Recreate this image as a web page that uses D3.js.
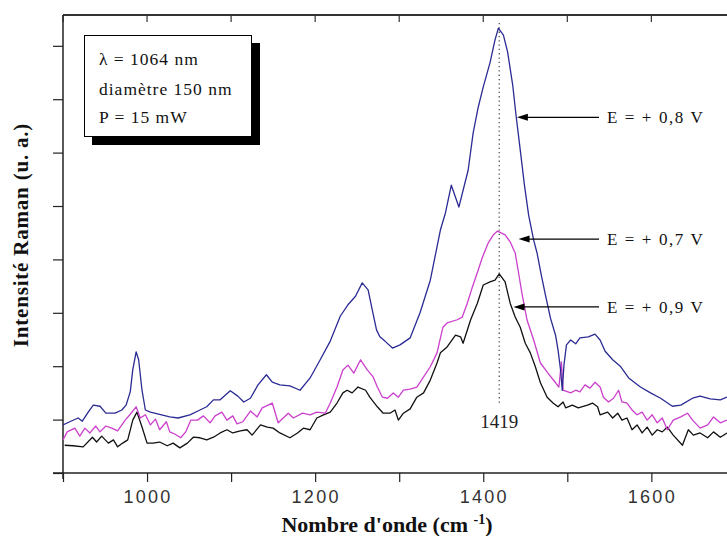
<!DOCTYPE html>
<html>
<head>
<meta charset="utf-8">
<script src="https://cdn.jsdelivr.net/npm/d3@7"></script>
<style>
  html, body { margin: 0; padding: 0; background: #fff; }
  svg { display: block; }
</style>
</head>
<body>
<svg id="chart" width="727" height="536"></svg>
<script>
// ---- Data (wavenumber cm-1, intensity a.u.) ----
const seriesE08 = [ // E = +0,8 V (blue)
  [900,0.90],[908,0.96],[918,1.03],[923,0.97],[930,1.14],[936,1.27],[944,1.25],[951,1.12],[962,1.12],[970,1.18],
  [975,1.27],[980,1.52],[983,1.93],[987,2.27],[990,2.12],[994,1.55],[998,1.18],[1004,1.14],[1015,1.10],[1027,1.05],
  [1037,1.03],[1051,1.09],[1063,1.18],[1071,1.24],[1079,1.37],[1087,1.37],[1099,1.54],[1108,1.44],[1115,1.33],[1123,1.40],
  [1132,1.65],[1142,1.84],[1149,1.70],[1158,1.65],[1170,1.63],[1182,1.55],[1194,1.78],[1206,2.12],[1218,2.47],[1230,2.94],
  [1239,3.15],[1248,3.31],[1256,3.56],[1263,3.43],[1268,3.05],[1273,2.68],[1277,2.55],[1283,2.47],[1292,2.34],[1301,2.40],
  [1313,2.53],[1325,3.01],[1337,3.61],[1343,4.08],[1349,4.55],[1355,4.87],[1362,5.39],[1371,4.98],[1382,5.67],[1388,6.37],
  [1394,6.85],[1400,7.23],[1408,7.68],[1414,8.11],[1418,8.33],[1424,8.20],[1429,7.88],[1435,7.27],[1439,6.70],[1444,6.05],
  [1449,5.39],[1454,4.83],[1460,4.36],[1464,4.12],[1469,3.71],[1474,3.33],[1480,2.90],[1486,2.58],[1489,2.30],[1492,1.93],
  [1494,1.55],[1496,2.02],[1499,2.40],[1504,2.49],[1510,2.42],[1515,2.53],[1525,2.55],[1533,2.60],[1539,2.49],[1545,2.28],
  [1554,2.12],[1563,2.00],[1573,1.78],[1587,1.61],[1599,1.50],[1611,1.40],[1625,1.25],[1635,1.27],[1649,1.40],[1658,1.44],
  [1670,1.39],[1682,1.37],[1690,1.42]
];
const seriesE07 = [ // E = +0,7 V (magenta)
  [900,0.62],[905,0.77],[914,0.84],[920,0.69],[926,0.84],[932,0.75],[939,0.88],[944,0.77],[951,0.88],[958,0.84],
  [965,0.79],[974,0.99],[980,1.10],[987,1.24],[992,1.03],[998,1.09],[1004,0.90],[1010,1.01],[1015,0.81],[1023,0.96],
  [1027,0.77],[1033,0.73],[1040,0.66],[1046,0.77],[1052,0.99],[1060,0.99],[1067,1.07],[1075,0.94],[1081,1.07],[1089,1.14],
  [1095,0.99],[1102,1.07],[1107,0.92],[1114,0.96],[1123,1.16],[1131,1.05],[1137,1.22],[1149,1.31],[1156,0.94],[1168,1.12],
  [1174,1.03],[1185,1.12],[1194,1.09],[1202,1.14],[1212,1.12],[1218,1.31],[1226,1.61],[1233,1.93],[1239,2.02],[1246,1.87],
  [1254,2.12],[1262,1.93],[1269,1.80],[1274,1.61],[1280,1.42],[1286,1.40],[1293,1.50],[1299,1.42],[1305,1.55],[1313,1.57],
  [1321,1.61],[1329,1.80],[1337,1.99],[1345,2.25],[1352,2.73],[1357,2.81],[1369,2.87],[1375,2.92],[1381,3.18],[1387,3.48],
  [1394,3.80],[1399,4.04],[1406,4.31],[1412,4.46],[1417,4.53],[1426,4.46],[1432,4.33],[1438,4.12],[1442,3.75],[1446,3.37],
  [1452,2.87],[1460,2.49],[1468,2.06],[1477,1.87],[1486,1.69],[1490,1.61],[1493,2.08],[1495,1.55],[1504,1.50],[1510,1.55],
  [1515,1.52],[1521,1.65],[1527,1.59],[1533,1.70],[1539,1.61],[1543,1.42],[1549,1.33],[1555,1.40],[1561,1.55],[1565,1.33],
  [1571,1.31],[1577,1.18],[1583,1.09],[1589,1.14],[1595,0.99],[1601,1.09],[1607,0.94],[1613,1.03],[1619,0.81],[1626,0.99],
  [1635,1.05],[1643,1.12],[1649,0.99],[1658,0.84],[1667,0.90],[1674,1.05],[1682,0.94],[1690,0.99]
];
const seriesE09 = [ // E = +0,9 V (black)
  [902,0.52],[912,0.51],[924,0.49],[935,0.67],[940,0.58],[946,0.69],[954,0.56],[960,0.62],[965,0.49],[971,0.56],
  [977,0.62],[983,0.99],[988,1.14],[994,0.86],[1000,0.56],[1007,0.56],[1015,0.58],[1024,0.51],[1031,0.56],[1039,0.47],
  [1048,0.56],[1055,0.67],[1063,0.66],[1071,0.62],[1079,0.67],[1087,0.75],[1095,0.81],[1102,0.75],[1111,0.79],[1119,0.81],
  [1125,0.71],[1135,0.90],[1143,0.86],[1150,0.84],[1158,0.75],[1170,0.66],[1179,0.75],[1186,0.84],[1194,0.81],[1202,1.03],
  [1210,1.09],[1218,1.14],[1226,1.31],[1233,1.50],[1238,1.55],[1244,1.50],[1251,1.61],[1260,1.55],[1265,1.42],[1274,1.24],
  [1281,1.12],[1289,1.12],[1295,1.18],[1299,0.99],[1305,1.12],[1313,1.20],[1321,1.42],[1329,1.50],[1337,1.74],[1345,2.06],
  [1349,2.25],[1357,2.36],[1367,2.58],[1373,2.55],[1376,2.43],[1385,2.87],[1393,3.18],[1400,3.52],[1408,3.58],[1414,3.61],
  [1419,3.73],[1426,3.58],[1432,3.18],[1438,2.92],[1444,2.73],[1450,2.43],[1456,2.25],[1462,1.99],[1468,1.69],[1476,1.42],
  [1483,1.31],[1489,1.24],[1495,1.33],[1498,1.22],[1506,1.27],[1513,1.22],[1524,1.27],[1530,1.31],[1536,1.24],[1539,1.09],
  [1548,1.14],[1554,1.03],[1560,1.12],[1565,0.99],[1571,1.03],[1577,0.81],[1583,0.90],[1589,0.75],[1595,0.86],[1601,0.71],
  [1607,0.81],[1613,0.77],[1619,0.86],[1626,0.71],[1637,0.52],[1644,0.81],[1650,0.71],[1658,0.75],[1667,0.66],[1674,0.77],
  [1682,0.67],[1690,0.75]
];
const xTickValues = [900, 1000, 1100, 1200, 1300, 1400, 1500, 1600];
const xTickLabels = [1000, 1200, 1400, 1600];
const yTickValues = [0, 1, 2, 3, 4, 5, 6, 7, 8];
const legendLines = ["\u03bb = 1064 nm", "diam\u00e8tre 150 nm", "P = 15 mW"];
const annotations = [
  { label: "E = + 0,8 V", wn: 1440, value: 6.66 },
  { label: "E = + 0,7 V", wn: 1442, value: 4.38 },
  { label: "E = + 0,9 V", wn: 1436, value: 3.11 }
];
const peakWn = 1419;

// ---- Chart ----
(function () {
const svg = d3.select("#chart");
const pl = 63, pr = 727, pt = 15, pb = 473;
const x = d3.scaleLinear().domain([900, 1690]).range([pl, pr]);
const y = d3.scaleLinear().domain([0, 8.577]).range([pb, pt]);

svg.append("defs").append("clipPath").attr("id", "clip")
  .append("rect").attr("x", pl).attr("y", pt).attr("width", pr - pl).attr("height", pb - pt);

// top frame line with inward ticks
svg.append("line").attr("x1", pl).attr("x2", pr).attr("y1", pt).attr("y2", pt)
  .attr("stroke", "#333").attr("stroke-width", 2);
svg.append("g").selectAll("line").data(xTickValues).join("line")
  .attr("x1", d => x(d)).attr("x2", d => x(d)).attr("y1", pt).attr("y2", pt + 7)
  .attr("stroke", "#333").attr("stroke-width", 1.2);

// bottom axis
const xAxis = d3.axisBottom(x).tickValues(xTickValues).tickSize(9).tickFormat("");
const gx = svg.append("g").attr("transform", `translate(0,${pb})`).call(xAxis);
gx.select(".domain").remove();
gx.selectAll(".tick line").attr("stroke", "#222").attr("stroke-width", 1.2);
svg.append("line").attr("x1", 53).attr("x2", pr).attr("y1", pb).attr("y2", pb)
  .attr("stroke", "#222").attr("stroke-width", 1.5);
svg.append("g").selectAll("text").data(xTickLabels).join("text")
  .attr("x", d => x(d) + 1).attr("y", 503)
  .attr("text-anchor", "middle")
  .attr("font-family", "'Liberation Sans Narrow', 'Arial Narrow', 'Liberation Sans', sans-serif")
  .attr("font-size", 18).attr("letter-spacing", 2.3).attr("fill", "#333")
  .text(d => d);

// left axis
const yAxis = d3.axisLeft(y).tickValues(yTickValues).tickSize(10).tickFormat("");
const gy = svg.append("g").attr("transform", `translate(${pl},0)`).call(yAxis);
gy.select(".domain").remove();
gy.selectAll(".tick line").attr("stroke", "#222").attr("stroke-width", 1.2);
svg.append("line").attr("x1", pl).attr("x2", pl).attr("y1", pt).attr("y2", pb + 6)
  .attr("stroke", "#222").attr("stroke-width", 1.5);

// dotted line at peak
svg.append("line").attr("x1", x(peakWn)).attr("x2", x(peakWn)).attr("y1", 23).attr("y2", 403)
  .attr("stroke", "#444").attr("stroke-width", 1.2).attr("stroke-dasharray", "1.3,3");

// curves
const line = d3.line().x(d => x(d[0])).y(d => y(d[1]));
const plot = svg.append("g").attr("clip-path", "url(#clip)");
plot.append("path").datum(seriesE09).attr("d", line).attr("fill", "none")
  .attr("stroke", "#111").attr("stroke-width", 1.3).attr("stroke-linejoin", "round");
plot.append("path").datum(seriesE07).attr("d", line).attr("fill", "none")
  .attr("stroke", "#cc3fcc").attr("stroke-width", 1.3).attr("stroke-linejoin", "round");
plot.append("path").datum(seriesE08).attr("d", line).attr("fill", "none")
  .attr("stroke", "#2b2b94").attr("stroke-width", 1.3).attr("stroke-linejoin", "round");

// peak label
svg.append("text").attr("x", x(peakWn)).attr("y", 428).attr("text-anchor", "middle")
  .attr("font-family", "'Liberation Serif', 'Times New Roman', serif").attr("font-size", 19)
  .attr("fill", "#222").text(peakWn);

// annotations with arrows
const ann = svg.append("g");
annotations.forEach(a => {
  const ax = x(a.wn), ay = y(a.value);
  ann.append("line").attr("x1", ax + 8).attr("x2", 599).attr("y1", ay).attr("y2", ay)
    .attr("stroke", "#000").attr("stroke-width", 1.3);
  ann.append("path")
    .attr("d", `M${ax},${ay} L${ax + 11},${ay - 3.5} L${ax + 11},${ay + 3.5} Z`)
    .attr("fill", "#000");
  ann.append("text").attr("x", 607).attr("y", ay + 6)
    .attr("font-family", "'Liberation Serif', 'Times New Roman', serif")
    .attr("font-size", 17).attr("letter-spacing", 1.6).attr("fill", "#111")
    .text(a.label);
});

// legend box with shadow
svg.append("rect").attr("x", 92).attr("y", 43).attr("width", 168).attr("height", 102).attr("fill", "#000");
svg.append("rect").attr("x", 84.5).attr("y", 35.5).attr("width", 167).attr("height", 101)
  .attr("fill", "#fff").attr("stroke", "#000").attr("stroke-width", 1);
svg.append("g").selectAll("text").data(legendLines).join("text")
  .attr("x", 99).attr("y", (d, i) => [65, 95, 123][i])
  .attr("font-family", "'Liberation Serif', 'Times New Roman', serif")
  .attr("font-size", 17.5).attr("letter-spacing", 1).attr("fill", "#111")
  .text(d => d);

// axis titles
const xt = svg.append("text").attr("x", 387).attr("y", 532).attr("text-anchor", "middle")
  .attr("font-family", "'Liberation Serif', 'Times New Roman', serif")
  .attr("font-size", 22).attr("font-weight", "bold").attr("fill", "#111");
xt.append("tspan").text("Nombre d'onde (cm ");
xt.append("tspan").attr("font-size", 14).attr("dy", -8).text("-1");
xt.append("tspan").attr("dy", 8).text(")");

svg.append("text").attr("transform", "translate(28,235) rotate(-90)").attr("text-anchor", "middle")
  .attr("font-family", "'Liberation Serif', 'Times New Roman', serif")
  .attr("font-size", 21).attr("font-weight", "bold").attr("letter-spacing", 0.8).attr("fill", "#111")
  .text("Intensit\u00e9 Raman (u. a.)");
})();
</script>
</body>
</html>
